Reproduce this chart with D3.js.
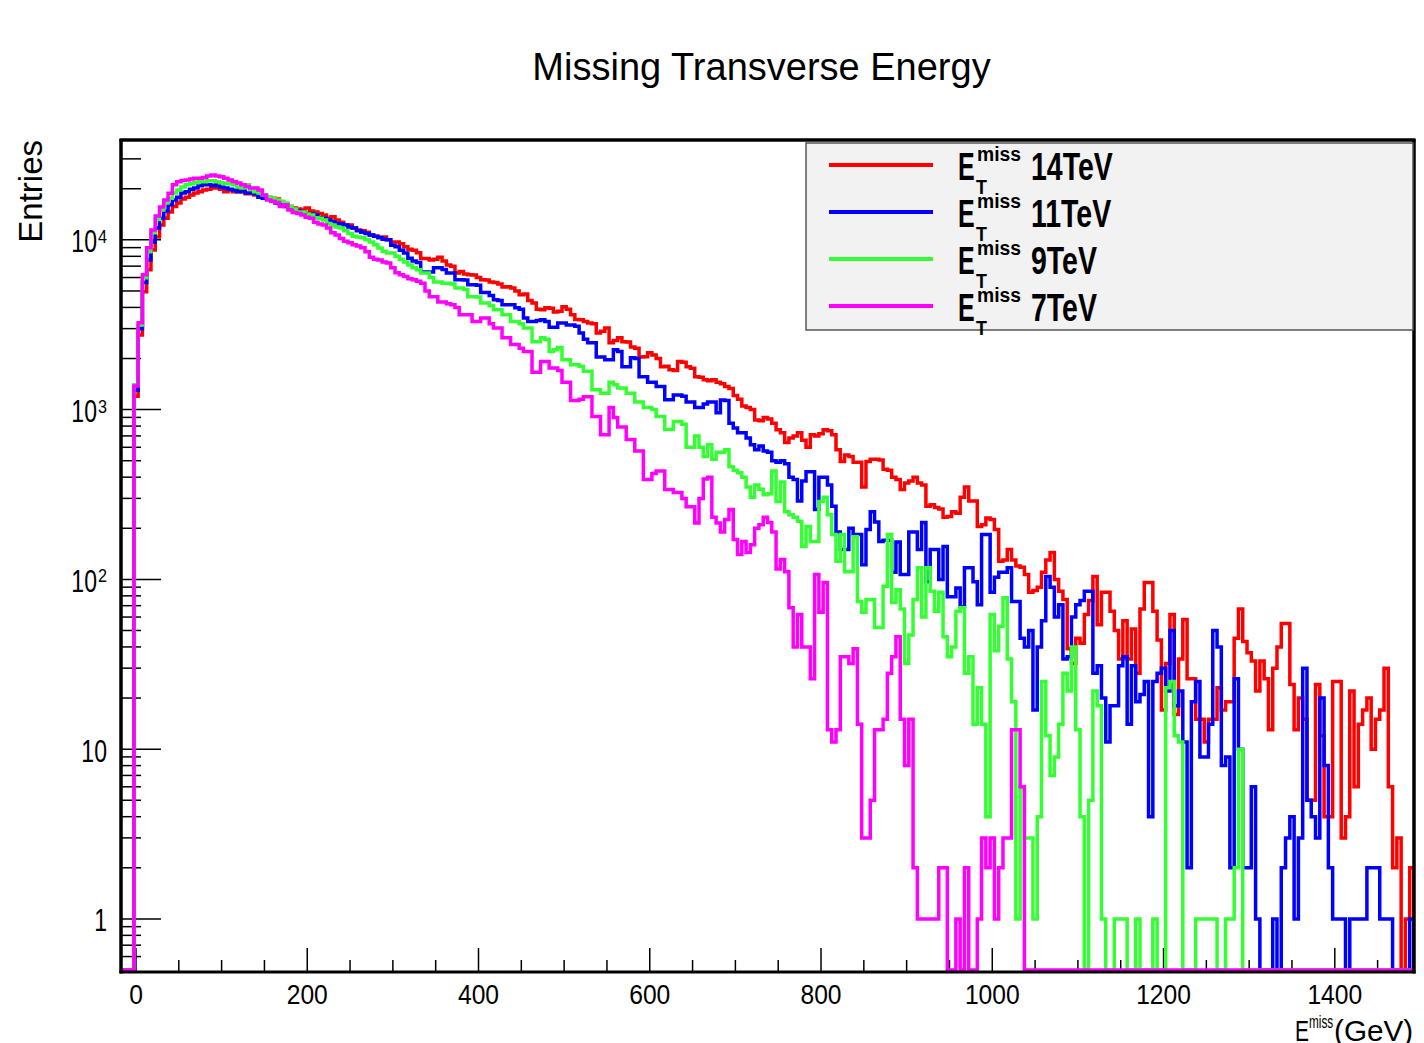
<!DOCTYPE html>
<html><head><meta charset="utf-8">
<script src="https://cdn.jsdelivr.net/npm/d3@7/dist/d3.min.js"></script>
<style>body{margin:0;background:#fff}svg{display:block}</style>
</head><body>
<svg id="c" width="1424" height="1043"></svg>
<script>
// ---------------- DATA ----------------
// histogram binning: 302 bins of 5 GeV, first lower edge -17.5 GeV
const BIN_LOW = -17.5;
const BIN_WIDTH = 5;
// entries per bin (first three bins are below 0 GeV and empty)
const met14TeV = [0,0,0,
1200,2750,4950,6660,8730,10400,12250,13400,14600,15700,
16500,17400,17800,18400,18900,19200,19700,19900,20200,20200,
19900,19200,19700,19200,19700,19200,18700,18700,18400,17800,
17800,17800,17600,17400,16700,16100,15700,15400,15200,15000,
15400,14800,14600,14300,14000,13400,13700,13100,12700,12250,
12250,11750,11450,11300,11100,10700,10500,10400,10400,10000,
9730,9730,9480,9100,8800,8700,8400,7760,7760,7600,
7700,7900,7500,7120,7000,6380,6500,6300,6220,6200,
6000,5820,5800,5650,5600,5500,5270,5300,5200,5000,
4750,4800,4400,4240,3900,3870,3980,3950,3760,3800,
4030,3900,3620,3400,3380,3300,3240,3200,2830,2900,
3030,2480,2550,2650,2510,2500,2340,2300,2040,2050,
2160,2100,2000,1790,1800,1720,1700,1920,1900,1790,
1750,1560,1550,1500,1480,1500,1450,1420,1370,1330,
1210,1150,1050,1030,1000,870,860,900,880,830,
760,730,640,680,700,730,660,600,710,700,
720,760,750,710,580,495,540,530,490,490,
350,495,510,510,505,445,440,400,387,338,
370,380,400,370,360,270,275,265,260,232,
235,250,245,305,350,290,290,205,210,230,
225,197,128,130,150,130,120,118,107,84,
86,90,110,130,144,100,85,76,39,32,
45,42,62,75,104,54,84,84,65,50,
34,57,34,51,28,67,96,96,65,44,
17,32,62,16,34,58,26,26,15,15,
11,15,15,23,17,19,19,45,67,43,
37,33,22,33,26,13,30,40,55,55,
24,13,20,15,5,5,24,12,4,4,
25,25,3,4,22,6,14,17,20,10,
15,17,30,6,2,3,0,1,2];

const met11TeV = [0,0,0,
1300,3000,5600,7600,9730,11750,13400,14800,16100,17200,
17800,18900,19200,19900,20200,20800,21100,21100,20800,21100,
20500,20200,19900,19700,19200,19500,18900,18900,18700,17800,
17600,17400,16900,16500,16100,15700,15400,15000,14800,14600,
14300,14200,14000,13500,13400,13100,12800,12500,12400,12250,
11900,11750,11300,11100,10900,10700,10500,10300,10100,10000,
9300,9100,8700,8380,7800,7500,7350,6470,6470,6470,
6850,6850,6700,6380,6380,5820,5820,5800,5440,5440,
5400,4900,4900,4700,4440,4400,4150,4150,4150,3980,
3900,3470,3300,3300,3350,3380,3300,3060,3060,3240,
3240,3150,3150,3100,2830,2600,2480,2480,2040,2040,
1970,1970,2250,2200,1790,1790,2020,2000,1560,1560,
1450,1450,1370,1370,1145,1145,1220,1220,1200,1110,
1110,1030,1030,1080,1110,1110,960,1140,1130,830,
780,730,730,680,620,580,610,570,560,500,
490,500,480,400,387,290,380,430,430,258,
400,400,360,270,190,150,150,200,184,184,
122,197,250,218,167,170,170,110,166,107,
107,190,190,150,216,97,150,150,100,156,
79,79,89,69,117,117,97,71,184,184,
84,103,110,110,117,74,74,45,40,50,
17,40,57,104,90,60,71,34,35,60,
71,75,85,85,28,31,20,11,18,18,
31,35,14,31,19,21,25,4,25,28,
30,22,50,18,22,11,2,19,25,9,
9,14,50,40,8,9,2,26,10,2,
2,6,1,0,0,0,1,0,2,3,
4,1,3,30,5,4,3,20,8,2,
1,1,1,0,1,1,1,1,2,2,
2,1,1,1,0,0,0,0,1];

const met9TeV = [0,0,0,
1400,3150,5980,8500,11000,13200,15000,16500,17600,18900,
19700,20500,21100,21400,21700,22000,22000,22300,22300,22000,
21700,21400,21400,21100,20500,20200,21100,19900,19200,18900,
18400,17800,17600,17200,16900,16500,15800,15200,14600,14600,
14200,14000,13500,13400,13100,12500,12250,11900,11750,11300,
10900,10500,10400,10300,10000,9730,9350,8960,8560,8380,
8380,8000,7700,7400,7120,6850,6660,6380,6380,6000,
5650,5650,5560,5560,5500,5200,5200,5100,4620,4620,
4600,4240,4240,4100,3870,3870,3620,3620,3300,3300,
3200,3030,3030,2510,2510,2650,2600,2200,2250,2320,
1970,1970,1840,1840,1800,1680,1680,1310,1310,1250,
1250,1450,1400,1340,1340,1250,1250,1110,1110,1030,
1030,1000,910,910,763,763,850,850,820,600,
600,700,600,530,620,510,560,560,580,460,
440,425,400,350,305,360,340,315,320,435,
288,375,250,240,232,220,156,205,167,167,
288,305,240,184,128,184,111,111,178,74,
64,76,76,52,52,91,184,73,87,67,
32,47,76,117,60,117,85,65,84,46,
35,40,65,68,28,35,14,23,14,4,
62,38,53,78,34,19,1,6,3,3,
1,4,25,12,7,9,14,28,22,40,
13,4,0,5,22,18,1,0,0,1,
1,1,0,0,1,0,0,0,1,0,
0,23,25,12,11,0,0,0,1,1,
1,1,1,0,0,1,1,2,10,0,
0,0,0,0,0,0,0,0,0,0,
0,0,0,0,0,0,0,0,0,0,
0,0,0,0,0,0,0,0,0,0,
0,0,0,0,0,0,0,0,0];

const met7TeV = [0,0,0,
1380,3250,6220,9000,11450,13800,15600,17200,18800,21100,
22000,22400,22500,22800,23100,23100,23300,23800,24100,23800,
23500,23100,22500,22100,21600,21100,20600,20200,20200,19700,
18400,17200,16900,16600,15700,16100,15000,14500,14300,14000,
13600,13400,12700,12400,12250,11750,11000,10700,10200,9800,
9600,9350,9200,9000,8500,7900,7700,7620,7400,7300,
6850,6400,6220,6080,5900,5820,5700,5560,5000,4620,
4620,4300,4300,4200,4150,4000,3620,3620,3620,3300,
3300,3470,3470,3200,3030,3030,2650,2650,2420,2420,
2300,2200,2200,1660,1660,1920,1920,1760,1760,1700,
1450,1450,1130,1130,1150,1190,1190,910,910,710,
710,1030,900,790,790,666,666,570,570,387,
387,420,435,435,338,338,325,325,300,268,
268,215,300,390,400,232,215,190,225,258,
172,140,167,144,160,200,210,232,216,190,
115,131,111,68,40,62,40,40,26,107,
64,96,13,11,13,35,35,32,39,14,
3,3,5,13,13,15,28,35,46,15,
8,15,2,1,1,1,1,1,2,2,
0,0,1,0,2,0,0,1,3,2,
3,1,2,3,3,13,13,6,0,0,
0,0,0,0,0,0,0,0,0,0,
0,0,0,0,0,0,0,0,0,0,
0,0,0,0,0,0,0,0,0,0,
0,0,0,0,0,0,0,0,0,0,
0,0,0,0,0,0,0,0,0,0,
0,0,0,0,0,0,0,0,0,0,
0,0,0,0,0,0,0,0,0,0,
0,0,0,0,0,0,0,0,0,0,
0,0,0,0,0,0,0,0,0];

const seriesNames = ["14TeV", "11TeV", "9TeV", "7TeV"];
const seriesColors = ["#ff0000", "#0000ff", "#33ff33", "#ff00ff"];
const seriesData = [met14TeV, met11TeV, met9TeV, met7TeV];

const xTickValues = [0, 200, 400, 600, 800, 1000, 1200, 1400];
const xTickLabels = ["0", "200", "400", "600", "800", "1000", "1200", "1400"];
const yTickValues = [1, 10, 100, 1000, 10000];
const yTickBase = ["1", "10", "10", "10", "10"];
const yTickExp = ["", "", "2", "3", "4"];
const Y_MIN = 0.5, Y_MAX = 38750;

// ---------------- DRAW ----------------
const FONT = "'Liberation Sans', Arial, Helvetica, sans-serif";
const svg = d3.select("#c");
svg.append("rect").attr("width", 1424).attr("height", 1043).attr("fill", "#fff");

const F = {x0: 121, x1: 1414, y0: 140, yb: 970, yl: 972};
const nBins = met14TeV.length;
const x = d3.scaleLinear().domain([BIN_LOW, BIN_LOW + BIN_WIDTH * nBins]).range([F.x0, F.x1]);
const y = d3.scaleLog().domain([Y_MIN, Y_MAX]).range([F.yb, F.y0]);

svg.append("clipPath").attr("id", "fr").append("rect")
  .attr("x", F.x0).attr("y", F.y0).attr("width", F.x1 - F.x0).attr("height", F.yl - F.y0);

const line = d3.line().x(d => x(d[0])).y(d => y(Math.max(d[1], Y_MIN)));
function stepPoints(vals) {
  const pts = [[BIN_LOW, Y_MIN]];
  vals.forEach((v, i) => {
    pts.push([BIN_LOW + i * BIN_WIDTH, v]);
    pts.push([BIN_LOW + (i + 1) * BIN_WIDTH, v]);
  });
  pts.push([BIN_LOW + vals.length * BIN_WIDTH, Y_MIN]);
  return pts;
}

// ticks
const tickG = svg.append("g").attr("stroke", "#000").attr("stroke-width", 1.5);
const yMinor = [];
for (let e = -1; e <= 4; e++) for (let m = 2; m <= 9; m++) {
  const v = m * Math.pow(10, e);
  if (v > Y_MIN && v < Y_MAX) yMinor.push(v);
}
yMinor.forEach(v => tickG.append("line").attr("x1", F.x0).attr("x2", F.x0 + 20).attr("y1", y(v)).attr("y2", y(v)));
yTickValues.forEach(v => tickG.append("line").attr("x1", F.x0).attr("x2", F.x0 + 40).attr("y1", y(v)).attr("y2", y(v)));
for (let v = 0; v < 1492; v += 50) {
  const major = xTickValues.includes(v);
  tickG.append("line").attr("x1", x(v)).attr("x2", x(v)).attr("y1", F.yl).attr("y2", F.yl - (major ? 24 : 12));
}

// histograms
const hg = svg.append("g").attr("clip-path", "url(#fr)");
seriesData.forEach((vals, i) => {
  hg.append("path").attr("d", line(stepPoints(vals)))
    .attr("fill", "none").attr("stroke", seriesColors[i]).attr("stroke-width", 3.5)
    .attr("stroke-linejoin", "miter").attr("stroke-linecap", "butt");
});

// frame
const fg = svg.append("g").attr("stroke", "#000");
fg.append("line").attr("x1", F.x0).attr("x2", F.x0).attr("y1", F.y0 - 1).attr("y2", F.yl + 1.5).attr("stroke-width", 3.5);
fg.append("line").attr("x1", F.x0 - 1.5).attr("x2", F.x1 + 1.5).attr("y1", F.y0).attr("y2", F.y0).attr("stroke-width", 3.5);
fg.append("line").attr("x1", F.x1).attr("x2", F.x1).attr("y1", F.y0 - 1).attr("y2", F.yl + 1.5).attr("stroke-width", 3.5);
fg.append("line").attr("x1", F.x0 - 1.5).attr("x2", F.x1 + 1.5).attr("y1", F.yl).attr("y2", F.yl).attr("stroke-width", 3);

// text helper
function txt(str, tx, ty, size, o = {}) {
  return svg.append("text")
    .attr("transform", `translate(${tx},${ty}) scale(${o.sx || 1},1)`)
    .attr("font-family", FONT).attr("font-size", size)
    .attr("font-weight", o.bold ? "bold" : "normal")
    .attr("text-anchor", o.anchor || "start").attr("fill", "#000").text(str);
}

// title
txt("Missing Transverse Energy", 761.5, 80, 38, {anchor: "middle"});

// x labels
xTickValues.forEach((v, i) => txt(xTickLabels[i], x(v), 1004, 28, {anchor: "middle", sx: 0.88}));

// y labels
yTickValues.forEach((v, i) => {
  const ty = y(v);
  if (yTickExp[i]) {
    txt(yTickBase[i], 97, ty + 12.5, 32, {anchor: "end", sx: 0.72});
    txt(yTickExp[i], 98, ty + 3, 18, {sx: 0.9});
  } else {
    txt(yTickBase[i], 107, ty + 12.5, 32, {anchor: "end", sx: 0.72});
  }
});

// axis titles
svg.append("text").attr("transform", "translate(42,140) rotate(-90)")
  .attr("font-family", FONT).attr("font-size", 33).attr("text-anchor", "end").text("Entries");
txt("E", 1295, 1041, 30, {sx: 0.7});
txt("T", 1298, 1057, 19);
txt("miss", 1309, 1028, 19, {sx: 0.62});
txt("(GeV)", 1334, 1041, 30, {sx: 0.99});

// legend
svg.append("rect").attr("x", 806).attr("y", 143).attr("width", 607).attr("height", 187)
  .attr("fill", "#f2f2f2").attr("stroke", "#555").attr("stroke-width", 1.5);
seriesNames.forEach((name, i) => {
  const cy = 165 + i * 47;
  svg.append("line").attr("x1", 829).attr("x2", 933).attr("y1", cy).attr("y2", cy)
    .attr("stroke", seriesColors[i]).attr("stroke-width", 4);
  txt("E", 958, cy + 15, 39, {bold: true, sx: 0.64});
  txt("miss", 977, cy - 4, 21, {bold: true, sx: 0.92});
  txt("T", 976, cy + 29, 21, {bold: true, sx: 0.85});
  txt(name, 1031, cy + 15, 39, {bold: true, sx: 0.73});
});
</script>
</body></html>
